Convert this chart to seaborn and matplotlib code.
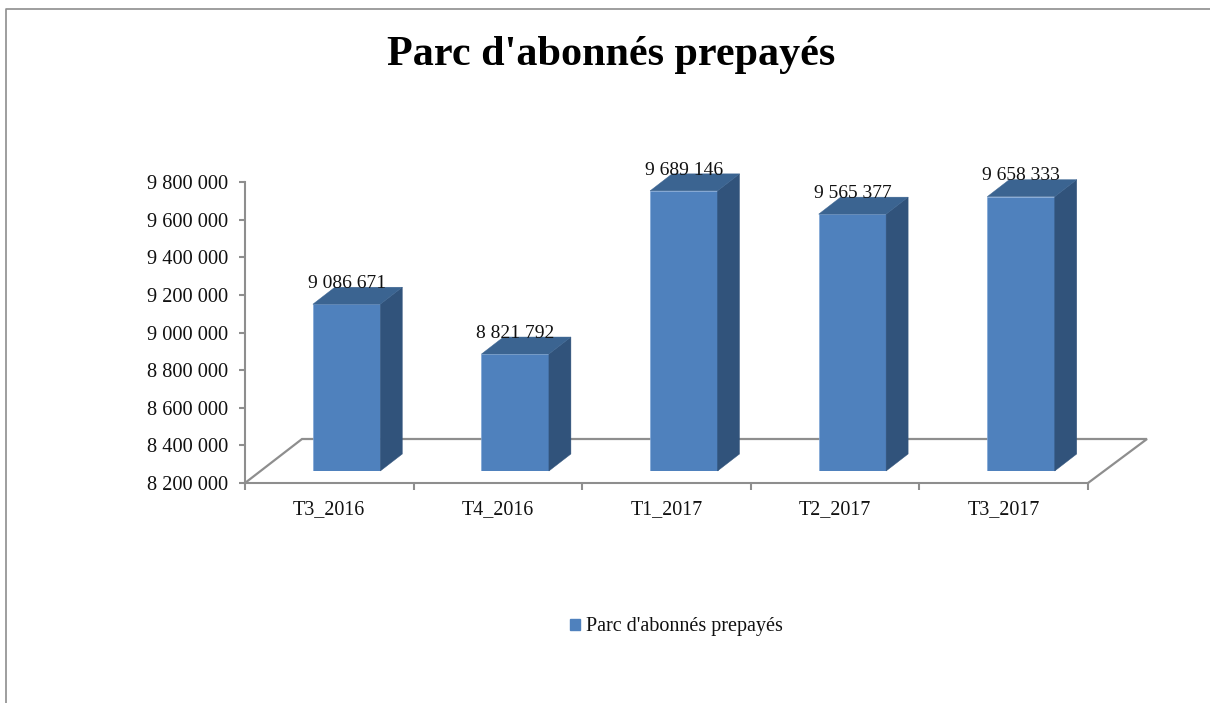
import matplotlib
matplotlib.use("Agg")
import matplotlib.pyplot as plt
from matplotlib.lines import Line2D
from matplotlib.patches import Patch, Polygon
from matplotlib.ticker import FuncFormatter
import pandas as pd
import seaborn as sns

categories = ["T3_2016", "T4_2016", "T1_2017", "T2_2017", "T3_2017"]
values = [9086671, 8821792, 9689146, 9565377, 9658333]
y_ticks = [8200000, 8400000, 8600000, 8800000, 9000000, 9200000, 9400000, 9600000, 9800000]
series_name = "Parc d'abonnés prepayés"

W, H = 1210, 703
FRONT, SIDE, TOP = "#4F81BD", "#31537B", "#3B6491"
GREY = "#8E8E8E"
TXT = "#111111"

sns.set_theme(style="white")
plt.rcParams["font.family"] = ["Liberation Serif", "DejaVu Serif"]

def fmt(v):
    return f"{int(v):,}".replace(",", " ")

fig = plt.figure(figsize=(W / 100, H / 100), dpi=100, facecolor="white")

def rect(l, t, r, b):
    return [l / W, 1 - b / H, (r - l) / W, (b - t) / H]

# plot area: back axis + floor
ax = fig.add_axes(rect(245, 182, 1088, 483))
ax.set_xlim(-0.5, 4.5)
ax.set_ylim(y_ticks[0], y_ticks[-1])
px_x = 5 / 843
px_y = (y_ticks[-1] - y_ticks[0]) / 301
ax.set_facecolor("none")
sns.despine(ax=ax)
for s in ("left", "bottom"):
    ax.spines[s].set_color(GREY)
    ax.spines[s].set_linewidth(1.5)
ax.set_yticks(y_ticks)
ax.yaxis.set_major_formatter(FuncFormatter(lambda v, _: fmt(v)))
ax.set_xticks([i - 0.5 for i in range(len(categories) + 1)])
ax.set_xticklabels([])
ax.set_xticks(range(len(categories)), categories, minor=True)
ax.tick_params(axis="y", length=4, width=1.5, color=GREY, labelsize=14.7, labelcolor=TXT, pad=8, left=True)
ax.tick_params(axis="x", which="major", length=5, width=1.5, color=GREY, bottom=True)
ax.tick_params(axis="x", which="minor", length=0, labelsize=14.4, labelcolor=TXT, pad=12)

x0, x1, y0 = -0.5, 4.5, y_ticks[0]
ax.add_line(Line2D(
    [x0, x0 + 57 * px_x, x1 + 59 * px_x, x1],
    [y0, y0 + 44 * px_y, y0 + 44 * px_y, y0],
    color=GREY, lw=1.6, clip_on=False, solid_joinstyle="miter"))

# bars: front faces on an overlaid axes shifted by the 3D offset
ax_f = fig.add_axes(rect(262.3, 170, 1105.3, 471))
ax_f.set_facecolor("none")
df = pd.DataFrame({"period": categories, "value": values})
sns.barplot(data=df, x="period", y="value", color=FRONT, saturation=1, width=0.4,
            ax=ax_f, edgecolor="#7FA6D6", linewidth=0.5, zorder=3)
ax_f.set_xlim(-0.5, 4.5)
ax_f.set_ylim(y_ticks[0], y_ticks[-1])
ax_f.axis("off")

dx, dy = 22 * px_x, 17 * px_y
for bar, v in zip(ax_f.patches, values):
    l, r = bar.get_x(), bar.get_x() + bar.get_width()
    ax_f.add_patch(Polygon([(r, y0), (r + dx, y0 + dy), (r + dx, v + dy), (r, v)],
                           closed=True, fc=SIDE, ec=SIDE, lw=0.3, zorder=3, clip_on=False))
    ax_f.add_patch(Polygon([(l, v), (l + dx, v + dy), (r + dx, v + dy), (r, v)],
                           closed=True, fc=TOP, ec=TOP, lw=0.3, zorder=3, clip_on=False))
    ax_f.annotate(fmt(v), xy=((l + r) / 2, v), xytext=(0, 15), textcoords="offset points",
                  ha="center", va="center", fontsize=14, color=TXT, zorder=5, annotation_clip=False)

fig.text(611 / W, 1 - 55 / H, series_name, ha="center", va="center",
         fontsize=30.3, fontweight="bold", color="black")

leg = ax_f.legend(handles=[Patch(fc=FRONT, ec=FRONT, label=series_name)],
                  loc="center", bbox_to_anchor=(676 / W, 1 - 627 / H),
                  bbox_transform=fig.transFigure, frameon=False, fontsize=14.5,
                  handlelength=0.5, handleheight=0.5, handletextpad=0.3, labelcolor=TXT)

# outer frame of the chart area
fig.add_artist(Line2D([5.5 / W, 5.5 / W, 1], [0, 1 - 8.5 / H, 1 - 8.5 / H], color=GREY, lw=1.2,
                      transform=fig.transFigure))

fig.savefig("out.png", dpi=100, facecolor="white")
